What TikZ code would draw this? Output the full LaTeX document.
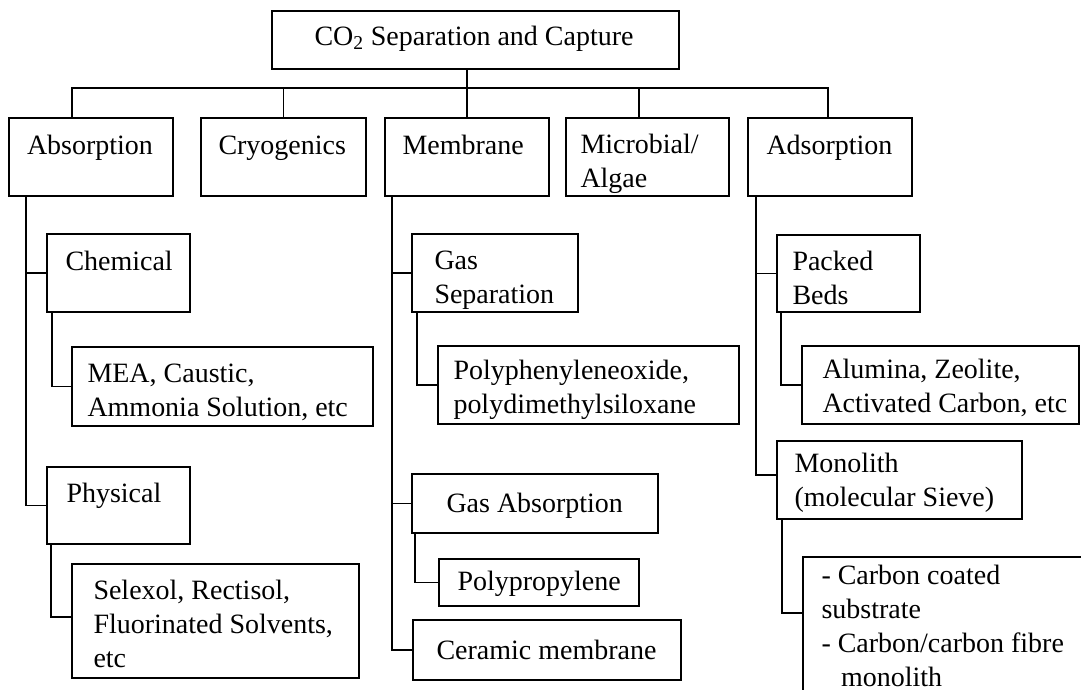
\documentclass[tikz,border=0pt]{standalone}
\usepackage{fontspec}
\setmainfont{Liberation Serif}
\usetikzlibrary{fit}
\newcommand\boxfont{\fontsize{19.9}{24.2}\selectfont}

\tikzset{
	box/.style={draw, line width=1.1pt, inner sep=0pt},
	txt/.style={anchor=north west, inner sep=0pt, align=left, font=\boxfont, execute at begin node={\strut}},
	link/.style={line width=1.1pt},
}

\begin{document}
\begin{tikzpicture}[x=0.025cm, y=-0.025cm]
	\useasboundingbox (0,0) rectangle (1081,690);
	\clip (0,0) rectangle (1081,690);
	% Boxes and texts:
	\node[box, fit={(272,11) (679,69)}] (top) {};
	\node[txt] at ([shift={(43,11.2)}]top.north west) {CO\textsubscript{2} Separation and Capture};
	\node[box, fit={(9,118) (173,196)}] (absorption) {};
	\node[txt] at ([shift={(18.5,12.7)}]absorption.north west) {Absorption};
	\node[box, fit={(201,118) (366,196)}] (cryogenics) {};
	\node[txt] at ([shift={(18,12.7)}]cryogenics.north west) {Cryogenics};
	\node[box, fit={(385,118) (549,196)}] (membrane) {};
	\node[txt] at ([shift={(18,12.7)}]membrane.north west) {Membrane};
	\node[box, fit={(566,118) (729,196)}] (microbial) {};
	\node[txt] at ([shift={(15,16.7)}]microbial.north west) {Microbial/\\Algae};
	\node[box, fit={(748,118) (912,196)}] (adsorption) {};
	\node[txt] at ([shift={(19,12.7)}]adsorption.north west) {Adsorption};
	% Absorption branch
	\node[box, fit={(47,234) (190,312)}] (chemical) {};
	\node[txt] at ([shift={(19,12.7)}]chemical.north west) {Chemical};
	\node[box, fit={(72,347) (373,426)}] (mea) {};
	\node[txt] at ([shift={(16,17.7)}]mea.north west) {MEA, Caustic,\\Ammonia Solution, etc};
	\node[box, fit={(47,467) (190,544)}] (physical) {};
	\node[txt] at ([shift={(20,11.7)}]physical.north west) {Physical};
	\node[box, fit={(72,564) (359,678)}] (selexol) {};
	\node[txt] at ([shift={(22,16.7)}]selexol.north west) {Selexol, Rectisol,\\Fluorinated Solvents,\\etc};
	% Membrane branch
	\node[box, fit={(412,234) (578,312)}] (gassep) {};
	\node[txt] at ([shift={(23,17)}]gassep.north west) {Gas\\Separation};
	\node[box, fit={(438,346) (739,424)}] (polyphen) {};
	\node[txt] at ([shift={(16,14.2)}]polyphen.north west) {Polyphenyleneoxide,\\polydimethylsiloxane};
	\node[box, fit={(412,474) (658,533)}] (gasabs) {};
	\node[txt] at ([shift={(35,15.2)}]gasabs.north west) {Gas Absorption};
	\node[box, fit={(439,559) (639,606)}] (polyprop) {};
	\node[txt] at ([shift={(19,8.2)}]polyprop.north west) {Polypropylene};
	\node[box, fit={(413,620) (681,680)}] (ceramic) {};
	\node[txt] at ([shift={(24,15.7)}]ceramic.north west) {Ceramic membrane};
	% Adsorption branch
	\node[box, fit={(777,235) (920,312)}] (packed) {};
	\node[txt] at ([shift={(16,16.2)}]packed.north west) {Packed\\Beds};
	\node[box, fit={(802,346) (1079,424)}] (alumina) {};
	\node[txt] at ([shift={(21,13.7)}]alumina.north west) {Alumina, Zeolite,\\Activated Carbon, etc};
	\node[box, fit={(777,441) (1022,519)}] (monolith) {};
	\node[txt] at ([shift={(18,12.2)}]monolith.north west) {Monolith\\(molecular Sieve)};
	\node[box, fit={(803,557) (1110,720)}] (carbon) {};
	\node[txt] at ([shift={(19,8.2)}]carbon.north west) {- Carbon coated\\substrate\\- Carbon/carbon fibre\\\hspace*{0.7em}monolith};
	% Wires:
	\coordinate (busL) at (72,88);
	\coordinate (busR) at (828,88);
	\draw[link] (top.south -| membrane.north) -- (membrane.north);
	\draw[link] (absorption.north -| busL) -- (busL) -- (busR) -- (adsorption.north -| busR);
	\draw[link] (cryogenics.north) -- (cryogenics.north |- busL);
	\draw[link] (microbial.north -| 639,0) -- (busL -| 639,0);
	\draw[link] (absorption.south -| 26,0) |- (physical.west);
	\draw[link] (chemical.west -| 26,0) -- (chemical.west);
	\draw[link] (chemical.south -| 52,0) |- (mea.west);
	\draw[link] (physical.south -| 51,0) |- (selexol.west |- 0,617);
	\draw[link] (membrane.south -| 392,0) |- (ceramic.west);
	\draw[link] (gassep.west -| 392,0) -- (gassep.west);
	\draw[link] (gasabs.west -| 392,0) -- (gasabs.west);
	\draw[link] (gassep.south -| 417,0) |- (polyphen.west);
	\draw[link] (gasabs.south -| 415,0) |- (polyprop.west);
	\draw[link] (adsorption.south -| 756,0) |- (monolith.west |- 0,475);
	\draw[link] (packed.west -| 756,0) -- (packed.west);
	\draw[link] (packed.south -| 781,0) |- (alumina.west);
	\draw[link] (monolith.south -| 782,0) |- (carbon.west |- 0,613);
\end{tikzpicture}
\end{document}
